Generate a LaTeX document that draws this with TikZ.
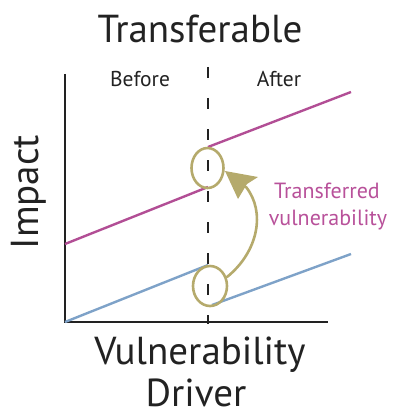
\documentclass[tikz,border=0pt]{standalone}
\usepackage{fontspec}
\setmainfont{PT Sans}
\usetikzlibrary{arrows.meta}
\definecolor{axisgray}{HTML}{222222}
\definecolor{impactpink}{HTML}{B24E95}
\definecolor{basblue}{HTML}{7EA2C8}
\definecolor{olive}{HTML}{B5AA6C}
\definecolor{labelpink}{HTML}{B8519A}
\tikzset{
  axis/.style={draw=axisgray, line width=2.2pt},
  divider/.style={draw=axisgray, line width=1.6pt, dash pattern=on 11pt off 20pt},
  pinkline/.style={draw=impactpink, line width=2.4pt},
  blueline/.style={draw=basblue, line width=2.4pt},
  ring/.style={draw=olive, line width=2.6pt},
  bigtext/.style={font=\fontsize{39}{42}\selectfont, text=axisgray, inner sep=0pt},
  midtext/.style={font=\fontsize{21.5}{24}\selectfont, text=axisgray, inner sep=0pt},
  transfer/.style={font=\fontsize{22}{27}\selectfont, text=labelpink, align=center, inner sep=0pt},
}
\begin{document}
\begin{tikzpicture}[x=1pt,y=-1pt]
  \useasboundingbox (0,0) rectangle (394,417);

  % axes
  \coordinate (ytop) at (65,74);
  \coordinate (origin) at (65,322);
  \coordinate (xend) at (328,322);
  \draw[axis] (ytop) -- (origin) -- (xend);

  % before / after divider
  \coordinate (dtop) at (208,67);
  \coordinate (dbot) at (208,324);
  \draw[divider] (dtop) -- (dbot);

  % impact lines
  \coordinate (p1) at (65,244);
  \coordinate (p2) at (208,187);
  \coordinate (p3) at (208,147);
  \coordinate (p4) at (351,92);
  \draw[pinkline] (p1) -- (p2);
  \draw[pinkline] (p3) -- (p4);

  % vulnerability lines
  \coordinate (b1) at (65,322);
  \coordinate (b2) at (208,265);
  \coordinate (b3) at (212,305);
  \coordinate (b4) at (351,254);
  \draw[blueline] (b1) -- (b2);
  \draw[blueline] (b3) -- (b4);

  % transfer rings
  \coordinate (ringtop) at (207.5,168);
  \coordinate (ringbot) at (210,286);
  \draw[ring] (ringtop) ellipse [x radius=16, y radius=20];
  \draw[ring] (ringbot) ellipse [x radius=17, y radius=20];

  % transfer arrow: curved shaft and a hand-drawn head
  \coordinate (astart) at (227,277);
  \coordinate (abase) at (246,187);
  \coordinate (atip) at (225,171);
  \coordinate (acorner1) at (258,177);
  \coordinate (acorner2) at (238,199);
  \draw[ring, line cap=round] (astart) .. controls (258,252) and (266,212) .. (abase);
  \fill[olive] (atip) -- (acorner1) -- (247,184) -- (acorner2) -- cycle;

  % labels
  \node[bigtext, anchor=base] (title) at (200,43) {Transferable};
  \node[midtext, anchor=base] (before) at (140,87) {Before};
  \node[midtext, anchor=base] (after) at (279,87) {After};
  \node[bigtext, anchor=base, rotate=90] (impact) at (38,192) {Impact};
  \node[bigtext, anchor=base] (xlab1) at (200,364) {Vulnerability};
  \node[bigtext, anchor=base] (xlab2) at (196,406) {Driver};
  \node[transfer, anchor=base] (tv1) at (327,198) {Transferred};
  \node[transfer, anchor=base] (tv2) at (328,225) {vulnerability};
\end{tikzpicture}
\end{document}
